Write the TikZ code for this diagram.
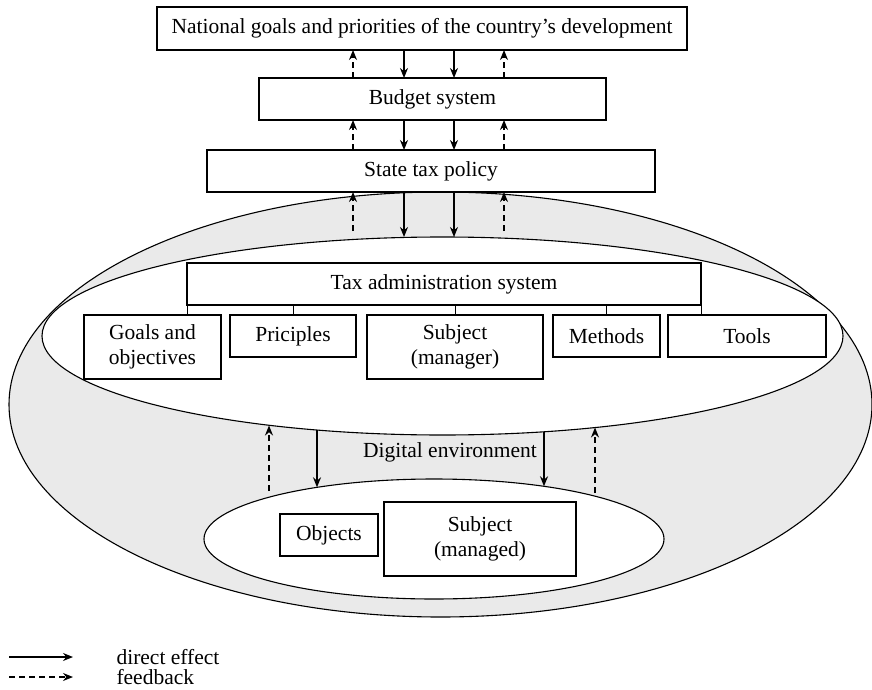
\documentclass[tikz,border=0pt]{standalone}
\usepackage{fontspec}
\setmainfont{Liberation Serif}
\usepackage{tikz}
\usetikzlibrary{arrows.meta,positioning,calc,shapes.geometric}
\definecolor{envGray}{RGB}{234,234,234}

\begin{document}
\begin{tikzpicture}[x=1pt,y=-1pt,
    lbl/.style={font=\fontsize{21.5}{25}\selectfont},
    box/.style={lbl,draw,fill=white,line width=1.1pt,inner sep=0pt,outer sep=0pt,align=center},
    env/.style={ellipse,draw,line width=1.1pt,inner sep=0pt,outer sep=0pt},
    eff/.style={-{Stealth[length=10pt,width=8pt]},line width=1.4pt},
    fb/.style={eff,dash pattern=on 6pt off 4pt}]
  \useasboundingbox (0,0) rectangle (872,690);

  % digital environment and the two areas inside it
  \node[env,fill=envGray,minimum width=863pt,minimum height=425pt] (digenv) at (440.5,404.5) {};
  \node[env,fill=white,minimum width=801pt,minimum height=198pt] (taxenv) at (442.5,336) {};
  \node[env,fill=white,minimum width=460pt,minimum height=120pt] (objenv) at (434,539) {};

  % upper levels
  \node[box,minimum width=530pt,minimum height=43pt] (goalsnat) at (422,28.5)
    {National goals and priorities of the country's development};
  \node[box,minimum width=347pt,minimum height=42pt] (budget) at (432.5,99) {Budget system};
  \node[box,minimum width=448pt,minimum height=42pt] (policy) at (431,171) {State tax policy};

  % tax administration
  \node[box,minimum width=514pt,minimum height=42pt] (admin) at (444,284) {Tax administration system};
  \node[box,minimum width=137pt,minimum height=64pt] (goals) at (152.5,347) {Goals and\\objectives};
  \node[box,minimum width=126pt,minimum height=42pt] (princ) at (293,336) {Priciples};
  \node[box,minimum width=176pt,minimum height=64pt] (subjmgr) at (455,347) {Subject\\(manager)};
  \node[box,minimum width=107pt,minimum height=42pt] (methods) at (606.5,336) {Methods};
  \node[box,minimum width=158pt,minimum height=42pt] (tools) at (747,336) {Tools};

  \draw[line width=1pt] (admin.south west) -- (admin.south west |- goals.north);
  \draw[line width=1pt] (admin.south east) -- (admin.south east |- tools.north);
  \foreach \n in {princ,subjmgr,methods}
    \draw[line width=1pt] (\n.north) -- (\n.north |- admin.south);

  % managed side
  \node[lbl] (digital) at (450,452) {Digital environment};
  \node[box,minimum width=98pt,minimum height=42pt] (objects) at (329,535) {Objects};
  \node[box,minimum width=192pt,minimum height=74pt] (subjmd) at (480,539) {Subject\\(managed)};

  % arrow columns
  \coordinate (c1) at (353,0);
  \coordinate (c2) at (404,0);
  \coordinate (c3) at (454,0);
  \coordinate (c4) at (504,0);
  \coordinate (fbtop) at (0,231);

  \foreach \c in {c2,c3} {
    \draw[eff] (goalsnat.south -| \c) -- (budget.north -| \c);
    \draw[eff] (budget.south -| \c) -- (policy.north -| \c);
    \draw[eff] (policy.south -| \c) -- (taxenv.north -| \c);
  }
  \foreach \c in {c1,c4} {
    \draw[fb] (budget.north -| \c) -- (goalsnat.south -| \c);
    \draw[fb] (policy.north -| \c) -- (budget.south -| \c);
    \draw[fb] (fbtop -| \c) -- (policy.south -| \c);
  }

  % between the tax area and the managed area
  \coordinate (t1) at (269,425.5);
  \coordinate (t2) at (317,430);
  \coordinate (t3) at (544,431.8);
  \coordinate (t4) at (595,427.5);
  \coordinate (o2) at (317,487.3);
  \coordinate (o3) at (544,486.3);
  \coordinate (f1) at (269,491);
  \coordinate (f4) at (595,493);
  \draw[eff] (t2) -- (o2);
  \draw[eff] (t3) -- (o3);
  \draw[fb] (f1) -- (t1);
  \draw[fb] (f4) -- (t4);

  % legend
  \node[lbl,anchor=west] (legeff) at (113,657) {direct effect};
  \node[lbl,anchor=west] (legfb) at (113,677) {feedback};
  \draw[eff] ([xshift=-104pt]legeff.west) -- ([xshift=-40pt]legeff.west);
  \draw[fb] ([xshift=-104pt]legfb.west) -- ([xshift=-40pt]legfb.west);
\end{tikzpicture}
\end{document}
